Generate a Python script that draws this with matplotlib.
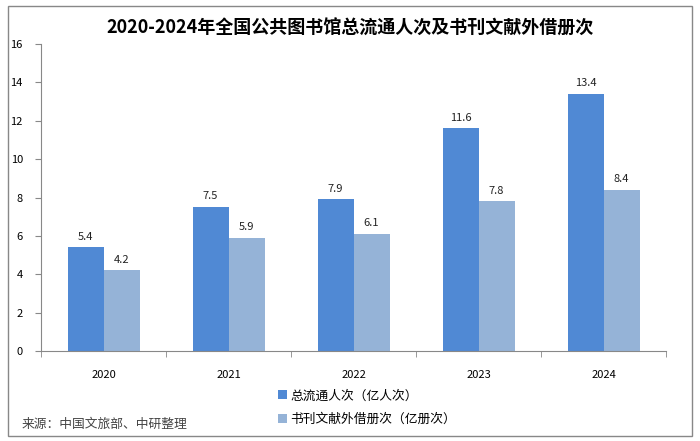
import numpy as np
import matplotlib.pyplot as plt
from matplotlib.patches import Rectangle

plt.rcParams['font.family'] = ['Noto Sans CJK SC', 'DejaVu Sans']

years = ["2020", "2021", "2022", "2023", "2024"]
liutong = [5.4, 7.5, 7.9, 11.6, 13.4]
waijie = [4.2, 5.9, 6.1, 7.8, 8.4]
yticks = [0, 2, 4, 6, 8, 10, 12, 14, 16]

c_dark = "#5089D4"
c_light = "#95B3D7"

fig = plt.figure(figsize=(7, 4.41), dpi=100)
ax = fig.add_axes([41 / 700, 1 - 351 / 441, 625 / 700, 307 / 441])

x = np.arange(len(years))
w = 36 / 125
b1 = ax.bar(x - w / 2, liutong, w, color=c_dark, label="总流通人次（亿人次）")
b2 = ax.bar(x + w / 2, waijie, w, color=c_light, label="书刊文献外借册次（亿册次）")

for rect, v in zip(b1, liutong):
    ax.text(rect.get_x() + rect.get_width() / 2, v + 0.3, f"{v}",
            ha="center", va="bottom", fontsize=8, color="#222222")
for rect, v in zip(b2, waijie):
    ax.text(rect.get_x() + rect.get_width() / 2, v + 0.3, f"{v}",
            ha="center", va="bottom", fontsize=8, color="#222222")

ax.set_xlim(-0.5, len(years) - 0.5)
ax.set_ylim(0, 16)
ax.set_yticks(yticks)
ax.set_xticks(x)
ax.set_xticklabels(years, fontsize=8)
ax.set_xticks(np.arange(len(years) + 1) - 0.5, minor=True)
ax.tick_params(axis="x", which="major", length=0, pad=14)
ax.tick_params(axis="x", which="minor", length=4, color="#888888", direction="out")
ax.tick_params(axis="y", labelsize=8, length=4, color="#888888", pad=9)

for s in ["top", "right"]:
    ax.spines[s].set_visible(False)
for s in ["left", "bottom"]:
    ax.spines[s].set_color("#888888")

fig.text(0.5, 1 - 28 / 441, "2020-2024年全国公共图书馆总流通人次及书刊文献外借册次",
         ha="center", va="center", fontsize=13, fontweight="bold")

fig.legend(handles=[b1, b2], loc="upper left", bbox_to_anchor=(272 / 700, 1 - 383 / 441),
           frameon=False, fontsize=9.2, handlelength=0.7, handleheight=0.7,
           handletextpad=0.25, labelspacing=0.85, borderpad=0)

fig.text(22 / 700, 1 - 424 / 441, "来源：中国文旅部、中研整理", ha="left", va="center",
         fontsize=9.2, color="#444444")

fig.patches.append(Rectangle((8 / 700, 5 / 441), 684 / 700, 430 / 441,
                             transform=fig.transFigure, fill=False,
                             edgecolor="#888888", linewidth=1))

fig.savefig("out.png", dpi=100)
